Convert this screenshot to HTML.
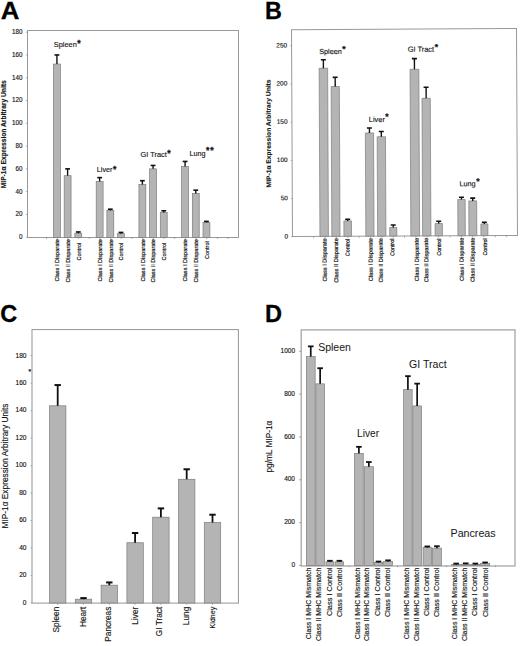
<!DOCTYPE html>
<html><head><meta charset="utf-8"><title>Figure</title>
<style>
html,body{margin:0;padding:0;background:#fff;width:520px;height:646px;overflow:hidden;}
svg{display:block;position:absolute;left:0;top:0;font-family:"Liberation Sans", sans-serif;}
</style></head>
<body>
<svg width="520" height="646" viewBox="0 0 520 646">
<rect x="0" y="0" width="520" height="646" fill="#ffffff"/>
<text x="0.70" y="18.90" font-size="24.6" text-anchor="start" font-weight="bold" fill="#000" stroke="#000" stroke-width="0.3" textLength="18.65" lengthAdjust="spacingAndGlyphs">A</text>
<text x="264.90" y="18.80" font-size="24.6" text-anchor="start" font-weight="bold" fill="#000" stroke="#000" stroke-width="0.3" textLength="16.90" lengthAdjust="spacingAndGlyphs">B</text>
<text x="0.20" y="321.90" font-size="24.6" text-anchor="start" font-weight="bold" fill="#000" stroke="#000" stroke-width="0.3" textLength="17.00" lengthAdjust="spacingAndGlyphs">C</text>
<text x="264.90" y="321.70" font-size="24.6" text-anchor="start" font-weight="bold" fill="#000" stroke="#000" stroke-width="0.3" textLength="17.00" lengthAdjust="spacingAndGlyphs">D</text>
<rect x="27.5" y="30.5" width="211.00" height="207.00" fill="none" stroke="#999999" stroke-width="1"/>
<line x1="25.90" y1="237.20" x2="27.30" y2="237.20" stroke="#8a8a8a" stroke-width="0.7"/>
<text x="22.40" y="239.07" font-size="6.3" text-anchor="end" font-weight="normal" fill="#141414" stroke="#141414" stroke-width="0.14">0</text>
<line x1="25.90" y1="214.42" x2="27.30" y2="214.42" stroke="#8a8a8a" stroke-width="0.7"/>
<text x="22.40" y="216.29" font-size="6.3" text-anchor="end" font-weight="normal" fill="#141414" stroke="#141414" stroke-width="0.14">20</text>
<line x1="25.90" y1="191.64" x2="27.30" y2="191.64" stroke="#8a8a8a" stroke-width="0.7"/>
<text x="22.40" y="193.51" font-size="6.3" text-anchor="end" font-weight="normal" fill="#141414" stroke="#141414" stroke-width="0.14">40</text>
<line x1="25.90" y1="168.86" x2="27.30" y2="168.86" stroke="#8a8a8a" stroke-width="0.7"/>
<text x="22.40" y="170.73" font-size="6.3" text-anchor="end" font-weight="normal" fill="#141414" stroke="#141414" stroke-width="0.14">60</text>
<line x1="25.90" y1="146.08" x2="27.30" y2="146.08" stroke="#8a8a8a" stroke-width="0.7"/>
<text x="22.40" y="147.95" font-size="6.3" text-anchor="end" font-weight="normal" fill="#141414" stroke="#141414" stroke-width="0.14">80</text>
<line x1="25.90" y1="123.30" x2="27.30" y2="123.30" stroke="#8a8a8a" stroke-width="0.7"/>
<text x="22.40" y="125.17" font-size="6.3" text-anchor="end" font-weight="normal" fill="#141414" stroke="#141414" stroke-width="0.14">100</text>
<line x1="25.90" y1="100.52" x2="27.30" y2="100.52" stroke="#8a8a8a" stroke-width="0.7"/>
<text x="22.40" y="102.39" font-size="6.3" text-anchor="end" font-weight="normal" fill="#141414" stroke="#141414" stroke-width="0.14">120</text>
<line x1="25.90" y1="77.74" x2="27.30" y2="77.74" stroke="#8a8a8a" stroke-width="0.7"/>
<text x="22.40" y="79.61" font-size="6.3" text-anchor="end" font-weight="normal" fill="#141414" stroke="#141414" stroke-width="0.14">140</text>
<line x1="25.90" y1="54.96" x2="27.30" y2="54.96" stroke="#8a8a8a" stroke-width="0.7"/>
<text x="22.40" y="56.83" font-size="6.3" text-anchor="end" font-weight="normal" fill="#141414" stroke="#141414" stroke-width="0.14">160</text>
<line x1="25.90" y1="32.18" x2="27.30" y2="32.18" stroke="#8a8a8a" stroke-width="0.7"/>
<text x="22.40" y="34.05" font-size="6.3" text-anchor="end" font-weight="normal" fill="#141414" stroke="#141414" stroke-width="0.14">180</text>
<line x1="46.50" y1="237.40" x2="46.50" y2="239.00" stroke="#8a8a8a" stroke-width="0.7"/>
<line x1="57.18" y1="237.40" x2="57.18" y2="239.00" stroke="#8a8a8a" stroke-width="0.7"/>
<line x1="67.86" y1="237.40" x2="67.86" y2="239.00" stroke="#8a8a8a" stroke-width="0.7"/>
<line x1="78.54" y1="237.40" x2="78.54" y2="239.00" stroke="#8a8a8a" stroke-width="0.7"/>
<line x1="89.22" y1="237.40" x2="89.22" y2="239.00" stroke="#8a8a8a" stroke-width="0.7"/>
<line x1="99.90" y1="237.40" x2="99.90" y2="239.00" stroke="#8a8a8a" stroke-width="0.7"/>
<line x1="110.58" y1="237.40" x2="110.58" y2="239.00" stroke="#8a8a8a" stroke-width="0.7"/>
<line x1="121.26" y1="237.40" x2="121.26" y2="239.00" stroke="#8a8a8a" stroke-width="0.7"/>
<line x1="131.94" y1="237.40" x2="131.94" y2="239.00" stroke="#8a8a8a" stroke-width="0.7"/>
<line x1="142.62" y1="237.40" x2="142.62" y2="239.00" stroke="#8a8a8a" stroke-width="0.7"/>
<line x1="153.30" y1="237.40" x2="153.30" y2="239.00" stroke="#8a8a8a" stroke-width="0.7"/>
<line x1="163.98" y1="237.40" x2="163.98" y2="239.00" stroke="#8a8a8a" stroke-width="0.7"/>
<line x1="174.66" y1="237.40" x2="174.66" y2="239.00" stroke="#8a8a8a" stroke-width="0.7"/>
<line x1="185.34" y1="237.40" x2="185.34" y2="239.00" stroke="#8a8a8a" stroke-width="0.7"/>
<line x1="196.02" y1="237.40" x2="196.02" y2="239.00" stroke="#8a8a8a" stroke-width="0.7"/>
<line x1="206.70" y1="237.40" x2="206.70" y2="239.00" stroke="#8a8a8a" stroke-width="0.7"/>
<line x1="217.38" y1="237.40" x2="217.38" y2="239.00" stroke="#8a8a8a" stroke-width="0.7"/>
<line x1="228.06" y1="237.40" x2="228.06" y2="239.00" stroke="#8a8a8a" stroke-width="0.7"/>
<rect x="53.48" y="64.07" width="6.90" height="173.33" fill="#b4b4b4" stroke="#7c7c7c" stroke-width="0.7"/>
<line x1="56.93" y1="54.96" x2="56.93" y2="64.07" stroke="#111" stroke-width="1.4"/>
<line x1="54.53" y1="54.96" x2="59.33" y2="54.96" stroke="#111" stroke-width="1.6"/>
<text x="59.18" y="239.10" font-size="5.7" text-anchor="end" font-weight="normal" fill="#141414" stroke="#141414" stroke-width="0.2" transform="rotate(-90 59.18 239.10)" textLength="42.40" lengthAdjust="spacingAndGlyphs">Class I Disparate</text>
<rect x="64.16" y="175.69" width="6.90" height="61.71" fill="#b4b4b4" stroke="#7c7c7c" stroke-width="0.7"/>
<line x1="67.61" y1="168.86" x2="67.61" y2="175.69" stroke="#111" stroke-width="1.4"/>
<line x1="65.21" y1="168.86" x2="70.01" y2="168.86" stroke="#111" stroke-width="1.6"/>
<text x="69.86" y="239.10" font-size="5.7" text-anchor="end" font-weight="normal" fill="#141414" stroke="#141414" stroke-width="0.2" transform="rotate(-90 69.86 239.10)" textLength="43.40" lengthAdjust="spacingAndGlyphs">Class II Disparate</text>
<rect x="74.84" y="233.21" width="6.90" height="4.19" fill="#b4b4b4" stroke="#7c7c7c" stroke-width="0.7"/>
<line x1="78.29" y1="231.96" x2="78.29" y2="233.21" stroke="#111" stroke-width="1.4"/>
<line x1="75.89" y1="231.96" x2="80.69" y2="231.96" stroke="#111" stroke-width="1.6"/>
<text x="80.54" y="242.70" font-size="5.7" text-anchor="end" font-weight="normal" fill="#141414" stroke="#141414" stroke-width="0.2" transform="rotate(-90 80.54 242.70)" textLength="17.80" lengthAdjust="spacingAndGlyphs">Control</text>
<rect x="96.20" y="181.39" width="6.90" height="56.01" fill="#b4b4b4" stroke="#7c7c7c" stroke-width="0.7"/>
<line x1="99.65" y1="177.63" x2="99.65" y2="181.39" stroke="#111" stroke-width="1.4"/>
<line x1="97.25" y1="177.63" x2="102.05" y2="177.63" stroke="#111" stroke-width="1.6"/>
<text x="101.90" y="239.10" font-size="5.7" text-anchor="end" font-weight="normal" fill="#141414" stroke="#141414" stroke-width="0.2" transform="rotate(-90 101.90 239.10)" textLength="42.40" lengthAdjust="spacingAndGlyphs">Class I Disparate</text>
<rect x="106.88" y="210.43" width="6.90" height="26.97" fill="#b4b4b4" stroke="#7c7c7c" stroke-width="0.7"/>
<line x1="110.33" y1="209.18" x2="110.33" y2="210.43" stroke="#111" stroke-width="1.4"/>
<line x1="107.93" y1="209.18" x2="112.73" y2="209.18" stroke="#111" stroke-width="1.6"/>
<text x="112.58" y="239.10" font-size="5.7" text-anchor="end" font-weight="normal" fill="#141414" stroke="#141414" stroke-width="0.2" transform="rotate(-90 112.58 239.10)" textLength="43.40" lengthAdjust="spacingAndGlyphs">Class II Disparate</text>
<rect x="117.56" y="233.67" width="6.90" height="3.73" fill="#b4b4b4" stroke="#7c7c7c" stroke-width="0.7"/>
<line x1="121.01" y1="232.42" x2="121.01" y2="233.67" stroke="#111" stroke-width="1.4"/>
<line x1="118.61" y1="232.42" x2="123.41" y2="232.42" stroke="#111" stroke-width="1.6"/>
<text x="123.26" y="242.70" font-size="5.7" text-anchor="end" font-weight="normal" fill="#141414" stroke="#141414" stroke-width="0.2" transform="rotate(-90 123.26 242.70)" textLength="17.80" lengthAdjust="spacingAndGlyphs">Control</text>
<rect x="138.92" y="184.58" width="6.90" height="52.82" fill="#b4b4b4" stroke="#7c7c7c" stroke-width="0.7"/>
<line x1="142.37" y1="180.71" x2="142.37" y2="184.58" stroke="#111" stroke-width="1.4"/>
<line x1="139.97" y1="180.71" x2="144.77" y2="180.71" stroke="#111" stroke-width="1.6"/>
<text x="144.62" y="239.10" font-size="5.7" text-anchor="end" font-weight="normal" fill="#141414" stroke="#141414" stroke-width="0.2" transform="rotate(-90 144.62 239.10)" textLength="42.40" lengthAdjust="spacingAndGlyphs">Class I Disparate</text>
<rect x="149.60" y="168.86" width="6.90" height="68.54" fill="#b4b4b4" stroke="#7c7c7c" stroke-width="0.7"/>
<line x1="153.05" y1="165.44" x2="153.05" y2="168.86" stroke="#111" stroke-width="1.4"/>
<line x1="150.65" y1="165.44" x2="155.45" y2="165.44" stroke="#111" stroke-width="1.6"/>
<text x="155.30" y="239.10" font-size="5.7" text-anchor="end" font-weight="normal" fill="#141414" stroke="#141414" stroke-width="0.2" transform="rotate(-90 155.30 239.10)" textLength="43.40" lengthAdjust="spacingAndGlyphs">Class II Disparate</text>
<rect x="160.28" y="212.60" width="6.90" height="24.80" fill="#b4b4b4" stroke="#7c7c7c" stroke-width="0.7"/>
<line x1="163.73" y1="210.78" x2="163.73" y2="212.60" stroke="#111" stroke-width="1.4"/>
<line x1="161.33" y1="210.78" x2="166.13" y2="210.78" stroke="#111" stroke-width="1.6"/>
<text x="165.98" y="242.70" font-size="5.7" text-anchor="end" font-weight="normal" fill="#141414" stroke="#141414" stroke-width="0.2" transform="rotate(-90 165.98 242.70)" textLength="17.80" lengthAdjust="spacingAndGlyphs">Control</text>
<rect x="181.64" y="166.58" width="6.90" height="70.82" fill="#b4b4b4" stroke="#7c7c7c" stroke-width="0.7"/>
<line x1="185.09" y1="161.46" x2="185.09" y2="166.58" stroke="#111" stroke-width="1.4"/>
<line x1="182.69" y1="161.46" x2="187.49" y2="161.46" stroke="#111" stroke-width="1.6"/>
<text x="187.34" y="239.10" font-size="5.7" text-anchor="end" font-weight="normal" fill="#141414" stroke="#141414" stroke-width="0.2" transform="rotate(-90 187.34 239.10)" textLength="42.40" lengthAdjust="spacingAndGlyphs">Class I Disparate</text>
<rect x="192.32" y="193.46" width="6.90" height="43.94" fill="#b4b4b4" stroke="#7c7c7c" stroke-width="0.7"/>
<line x1="195.77" y1="190.16" x2="195.77" y2="193.46" stroke="#111" stroke-width="1.4"/>
<line x1="193.37" y1="190.16" x2="198.17" y2="190.16" stroke="#111" stroke-width="1.6"/>
<text x="198.02" y="239.10" font-size="5.7" text-anchor="end" font-weight="normal" fill="#141414" stroke="#141414" stroke-width="0.2" transform="rotate(-90 198.02 239.10)" textLength="43.40" lengthAdjust="spacingAndGlyphs">Class II Disparate</text>
<rect x="203.00" y="222.39" width="6.90" height="15.01" fill="#b4b4b4" stroke="#7c7c7c" stroke-width="0.7"/>
<line x1="206.45" y1="221.37" x2="206.45" y2="222.39" stroke="#111" stroke-width="1.4"/>
<line x1="204.05" y1="221.37" x2="208.85" y2="221.37" stroke="#111" stroke-width="1.6"/>
<text x="208.70" y="241.30" font-size="5.7" text-anchor="end" font-weight="normal" fill="#141414" stroke="#141414" stroke-width="0.2" transform="rotate(-90 208.70 241.30)" textLength="17.80" lengthAdjust="spacingAndGlyphs">Control</text>
<text x="53.80" y="46.90" font-size="7.4" text-anchor="start" font-weight="normal" fill="#141414" stroke="#141414" stroke-width="0.14">Spleen</text>
<text x="77.34" y="45.50" font-size="8.6" text-anchor="start" font-weight="bold" fill="#141414" stroke="#141414" stroke-width="0.3">*</text>
<text x="96.80" y="172.00" font-size="7.2" text-anchor="start" font-weight="normal" fill="#141414" stroke="#141414" stroke-width="0.14">Liver</text>
<text x="112.91" y="171.70" font-size="8.6" text-anchor="start" font-weight="bold" fill="#141414" stroke="#141414" stroke-width="0.3">*</text>
<text x="140.60" y="157.20" font-size="7.35" text-anchor="start" font-weight="normal" fill="#141414" stroke="#141414" stroke-width="0.14">GI Tract</text>
<text x="167.24" y="155.60" font-size="8.6" text-anchor="start" font-weight="bold" fill="#141414" stroke="#141414" stroke-width="0.3">*</text>
<text x="189.50" y="155.50" font-size="7.2" text-anchor="start" font-weight="normal" fill="#141414" stroke="#141414" stroke-width="0.14">Lung</text>
<text x="206.02" y="153.20" font-size="8.6" text-anchor="start" font-weight="bold" fill="#141414" stroke="#141414" stroke-width="0.3">*</text>
<text x="210.36" y="153.20" font-size="8.6" text-anchor="start" font-weight="bold" fill="#141414" stroke="#141414" stroke-width="0.3">*</text>
<text x="6.50" y="134.30" font-size="6.5" text-anchor="middle" font-weight="bold" fill="#141414" stroke="#141414" stroke-width="0.14" transform="rotate(-90 6.50 134.30)" textLength="107.90" lengthAdjust="spacingAndGlyphs">MIP-1&#945; Expression Arbitrary Units</text>
<g transform="rotate(-0.27 405 133)">
<rect x="292.0" y="29.1" width="225.00" height="206.90" fill="none" stroke="#999999" stroke-width="1"/>
<line x1="290.60" y1="236.20" x2="292.00" y2="236.20" stroke="#8a8a8a" stroke-width="0.7"/>
<text x="287.60" y="237.84" font-size="6.5" text-anchor="end" font-weight="normal" fill="#141414" stroke="#141414" stroke-width="0.14">0</text>
<line x1="290.60" y1="198.00" x2="292.00" y2="198.00" stroke="#8a8a8a" stroke-width="0.7"/>
<text x="287.60" y="199.64" font-size="6.5" text-anchor="end" font-weight="normal" fill="#141414" stroke="#141414" stroke-width="0.14">50</text>
<line x1="290.60" y1="159.80" x2="292.00" y2="159.80" stroke="#8a8a8a" stroke-width="0.7"/>
<text x="287.60" y="161.44" font-size="6.5" text-anchor="end" font-weight="normal" fill="#141414" stroke="#141414" stroke-width="0.14">100</text>
<line x1="290.60" y1="121.60" x2="292.00" y2="121.60" stroke="#8a8a8a" stroke-width="0.7"/>
<text x="287.60" y="123.24" font-size="6.5" text-anchor="end" font-weight="normal" fill="#141414" stroke="#141414" stroke-width="0.14">150</text>
<line x1="290.60" y1="83.40" x2="292.00" y2="83.40" stroke="#8a8a8a" stroke-width="0.7"/>
<text x="287.60" y="85.04" font-size="6.5" text-anchor="end" font-weight="normal" fill="#141414" stroke="#141414" stroke-width="0.14">200</text>
<line x1="290.60" y1="45.20" x2="292.00" y2="45.20" stroke="#8a8a8a" stroke-width="0.7"/>
<text x="287.60" y="46.84" font-size="6.5" text-anchor="end" font-weight="normal" fill="#141414" stroke="#141414" stroke-width="0.14">250</text>
<line x1="313.20" y1="236.00" x2="313.20" y2="237.60" stroke="#8a8a8a" stroke-width="0.7"/>
<line x1="324.55" y1="236.00" x2="324.55" y2="237.60" stroke="#8a8a8a" stroke-width="0.7"/>
<line x1="335.90" y1="236.00" x2="335.90" y2="237.60" stroke="#8a8a8a" stroke-width="0.7"/>
<line x1="347.25" y1="236.00" x2="347.25" y2="237.60" stroke="#8a8a8a" stroke-width="0.7"/>
<line x1="358.60" y1="236.00" x2="358.60" y2="237.60" stroke="#8a8a8a" stroke-width="0.7"/>
<line x1="369.95" y1="236.00" x2="369.95" y2="237.60" stroke="#8a8a8a" stroke-width="0.7"/>
<line x1="381.30" y1="236.00" x2="381.30" y2="237.60" stroke="#8a8a8a" stroke-width="0.7"/>
<line x1="392.65" y1="236.00" x2="392.65" y2="237.60" stroke="#8a8a8a" stroke-width="0.7"/>
<line x1="404.00" y1="236.00" x2="404.00" y2="237.60" stroke="#8a8a8a" stroke-width="0.7"/>
<line x1="415.35" y1="236.00" x2="415.35" y2="237.60" stroke="#8a8a8a" stroke-width="0.7"/>
<line x1="426.70" y1="236.00" x2="426.70" y2="237.60" stroke="#8a8a8a" stroke-width="0.7"/>
<line x1="438.05" y1="236.00" x2="438.05" y2="237.60" stroke="#8a8a8a" stroke-width="0.7"/>
<line x1="449.40" y1="236.00" x2="449.40" y2="237.60" stroke="#8a8a8a" stroke-width="0.7"/>
<line x1="460.75" y1="236.00" x2="460.75" y2="237.60" stroke="#8a8a8a" stroke-width="0.7"/>
<line x1="472.10" y1="236.00" x2="472.10" y2="237.60" stroke="#8a8a8a" stroke-width="0.7"/>
<line x1="483.45" y1="236.00" x2="483.45" y2="237.60" stroke="#8a8a8a" stroke-width="0.7"/>
<line x1="494.80" y1="236.00" x2="494.80" y2="237.60" stroke="#8a8a8a" stroke-width="0.7"/>
<line x1="506.15" y1="236.00" x2="506.15" y2="237.60" stroke="#8a8a8a" stroke-width="0.7"/>
<rect x="319.45" y="67.82" width="8.50" height="168.18" fill="#b4b4b4" stroke="#7c7c7c" stroke-width="0.7"/>
<line x1="323.70" y1="59.42" x2="323.70" y2="67.82" stroke="#111" stroke-width="1.4"/>
<line x1="321.20" y1="59.42" x2="326.20" y2="59.42" stroke="#111" stroke-width="1.6"/>
<text x="326.00" y="237.90" font-size="5.7" text-anchor="end" font-weight="normal" fill="#141414" stroke="#141414" stroke-width="0.2" transform="rotate(-90 326.00 237.90)" textLength="43.30" lengthAdjust="spacingAndGlyphs">Class I Disparate</text>
<rect x="331.35" y="86.16" width="8.20" height="149.84" fill="#b4b4b4" stroke="#7c7c7c" stroke-width="0.7"/>
<line x1="335.45" y1="76.99" x2="335.45" y2="86.16" stroke="#111" stroke-width="1.4"/>
<line x1="332.95" y1="76.99" x2="337.95" y2="76.99" stroke="#111" stroke-width="1.6"/>
<text x="337.50" y="237.90" font-size="5.7" text-anchor="end" font-weight="normal" fill="#141414" stroke="#141414" stroke-width="0.2" transform="rotate(-90 337.50 237.90)" textLength="44.50" lengthAdjust="spacingAndGlyphs">Class II Disparate</text>
<rect x="343.45" y="220.62" width="7.60" height="15.38" fill="#b4b4b4" stroke="#7c7c7c" stroke-width="0.7"/>
<line x1="347.25" y1="218.94" x2="347.25" y2="220.62" stroke="#111" stroke-width="1.4"/>
<line x1="344.75" y1="218.94" x2="349.75" y2="218.94" stroke="#111" stroke-width="1.6"/>
<text x="349.00" y="238.60" font-size="5.7" text-anchor="end" font-weight="normal" fill="#141414" stroke="#141414" stroke-width="0.2" transform="rotate(-90 349.00 238.60)" textLength="17.30" lengthAdjust="spacingAndGlyphs">Control</text>
<rect x="365.35" y="132.76" width="8.20" height="103.24" fill="#b4b4b4" stroke="#7c7c7c" stroke-width="0.7"/>
<line x1="369.45" y1="127.79" x2="369.45" y2="132.76" stroke="#111" stroke-width="1.4"/>
<line x1="366.95" y1="127.79" x2="371.95" y2="127.79" stroke="#111" stroke-width="1.6"/>
<text x="372.00" y="237.90" font-size="5.7" text-anchor="end" font-weight="normal" fill="#141414" stroke="#141414" stroke-width="0.2" transform="rotate(-90 372.00 237.90)" textLength="43.30" lengthAdjust="spacingAndGlyphs">Class I Disparate</text>
<rect x="377.15" y="136.58" width="8.30" height="99.42" fill="#b4b4b4" stroke="#7c7c7c" stroke-width="0.7"/>
<line x1="381.30" y1="131.38" x2="381.30" y2="136.58" stroke="#111" stroke-width="1.4"/>
<line x1="378.80" y1="131.38" x2="383.80" y2="131.38" stroke="#111" stroke-width="1.6"/>
<text x="382.10" y="237.90" font-size="5.7" text-anchor="end" font-weight="normal" fill="#141414" stroke="#141414" stroke-width="0.2" transform="rotate(-90 382.10 237.90)" textLength="44.50" lengthAdjust="spacingAndGlyphs">Class II Disparate</text>
<rect x="389.25" y="227.50" width="7.10" height="8.50" fill="#b4b4b4" stroke="#7c7c7c" stroke-width="0.7"/>
<line x1="392.80" y1="224.97" x2="392.80" y2="227.50" stroke="#111" stroke-width="1.4"/>
<line x1="390.30" y1="224.97" x2="395.30" y2="224.97" stroke="#111" stroke-width="1.6"/>
<text x="393.60" y="238.60" font-size="5.7" text-anchor="end" font-weight="normal" fill="#141414" stroke="#141414" stroke-width="0.2" transform="rotate(-90 393.60 238.60)" textLength="17.30" lengthAdjust="spacingAndGlyphs">Control</text>
<rect x="410.35" y="69.35" width="8.80" height="166.65" fill="#b4b4b4" stroke="#7c7c7c" stroke-width="0.7"/>
<line x1="414.75" y1="58.65" x2="414.75" y2="69.35" stroke="#111" stroke-width="1.4"/>
<line x1="412.25" y1="58.65" x2="417.25" y2="58.65" stroke="#111" stroke-width="1.6"/>
<text x="418.10" y="237.90" font-size="5.7" text-anchor="end" font-weight="normal" fill="#141414" stroke="#141414" stroke-width="0.2" transform="rotate(-90 418.10 237.90)" textLength="43.30" lengthAdjust="spacingAndGlyphs">Class I Disparate</text>
<rect x="422.15" y="98.38" width="8.30" height="137.62" fill="#b4b4b4" stroke="#7c7c7c" stroke-width="0.7"/>
<line x1="426.30" y1="87.30" x2="426.30" y2="98.38" stroke="#111" stroke-width="1.4"/>
<line x1="423.80" y1="87.30" x2="428.80" y2="87.30" stroke="#111" stroke-width="1.6"/>
<text x="427.60" y="237.90" font-size="5.7" text-anchor="end" font-weight="normal" fill="#141414" stroke="#141414" stroke-width="0.2" transform="rotate(-90 427.60 237.90)" textLength="44.50" lengthAdjust="spacingAndGlyphs">Class II Disparate</text>
<rect x="434.65" y="223.68" width="7.30" height="12.32" fill="#b4b4b4" stroke="#7c7c7c" stroke-width="0.7"/>
<line x1="438.30" y1="221.38" x2="438.30" y2="223.68" stroke="#111" stroke-width="1.4"/>
<line x1="435.80" y1="221.38" x2="440.80" y2="221.38" stroke="#111" stroke-width="1.6"/>
<text x="440.50" y="238.60" font-size="5.7" text-anchor="end" font-weight="normal" fill="#141414" stroke="#141414" stroke-width="0.2" transform="rotate(-90 440.50 238.60)" textLength="17.30" lengthAdjust="spacingAndGlyphs">Control</text>
<rect x="457.45" y="199.69" width="7.40" height="36.31" fill="#b4b4b4" stroke="#7c7c7c" stroke-width="0.7"/>
<line x1="461.15" y1="197.55" x2="461.15" y2="199.69" stroke="#111" stroke-width="1.4"/>
<line x1="458.65" y1="197.55" x2="463.65" y2="197.55" stroke="#111" stroke-width="1.6"/>
<text x="463.00" y="237.90" font-size="5.7" text-anchor="end" font-weight="normal" fill="#141414" stroke="#141414" stroke-width="0.2" transform="rotate(-90 463.00 237.90)" textLength="43.30" lengthAdjust="spacingAndGlyphs">Class I Disparate</text>
<rect x="468.45" y="201.21" width="7.90" height="34.79" fill="#b4b4b4" stroke="#7c7c7c" stroke-width="0.7"/>
<line x1="472.40" y1="198.46" x2="472.40" y2="201.21" stroke="#111" stroke-width="1.4"/>
<line x1="469.90" y1="198.46" x2="474.90" y2="198.46" stroke="#111" stroke-width="1.6"/>
<text x="473.90" y="237.90" font-size="5.7" text-anchor="end" font-weight="normal" fill="#141414" stroke="#141414" stroke-width="0.2" transform="rotate(-90 473.90 237.90)" textLength="44.50" lengthAdjust="spacingAndGlyphs">Class II Disparate</text>
<rect x="480.45" y="224.29" width="7.00" height="11.71" fill="#b4b4b4" stroke="#7c7c7c" stroke-width="0.7"/>
<line x1="483.95" y1="222.68" x2="483.95" y2="224.29" stroke="#111" stroke-width="1.4"/>
<line x1="481.45" y1="222.68" x2="486.45" y2="222.68" stroke="#111" stroke-width="1.6"/>
<text x="486.50" y="238.60" font-size="5.7" text-anchor="end" font-weight="normal" fill="#141414" stroke="#141414" stroke-width="0.2" transform="rotate(-90 486.50 238.60)" textLength="17.30" lengthAdjust="spacingAndGlyphs">Control</text>
<text x="319.50" y="53.70" font-size="7.3" text-anchor="start" font-weight="normal" fill="#141414" stroke="#141414" stroke-width="0.14">Spleen</text>
<text x="342.73" y="51.80" font-size="8.6" text-anchor="start" font-weight="bold" fill="#141414" stroke="#141414" stroke-width="0.3">*</text>
<text x="368.90" y="121.80" font-size="7.4" text-anchor="start" font-weight="normal" fill="#141414" stroke="#141414" stroke-width="0.14">Liver</text>
<text x="385.44" y="119.40" font-size="8.6" text-anchor="start" font-weight="bold" fill="#141414" stroke="#141414" stroke-width="0.3">*</text>
<text x="408.10" y="51.80" font-size="7.45" text-anchor="start" font-weight="normal" fill="#141414" stroke="#141414" stroke-width="0.14">GI Tract</text>
<text x="435.09" y="50.10" font-size="8.6" text-anchor="start" font-weight="bold" fill="#141414" stroke="#141414" stroke-width="0.3">*</text>
<text x="459.20" y="186.60" font-size="7.3" text-anchor="start" font-weight="normal" fill="#141414" stroke="#141414" stroke-width="0.14">Lung</text>
<text x="475.94" y="184.60" font-size="8.6" text-anchor="start" font-weight="bold" fill="#141414" stroke="#141414" stroke-width="0.3">*</text>
<text x="270.70" y="132.80" font-size="6.5" text-anchor="middle" font-weight="bold" fill="#141414" stroke="#141414" stroke-width="0.14" transform="rotate(-90 270.70 132.80)" textLength="107.90" lengthAdjust="spacingAndGlyphs">MIP-1&#945; Expression Arbitrary Units</text>
</g>
<rect x="32.0" y="329.6" width="206.40" height="273.50" fill="none" stroke="#949494" stroke-width="1.0"/>
<line x1="30.60" y1="602.90" x2="32.00" y2="602.90" stroke="#8a8a8a" stroke-width="0.7"/>
<text x="26.50" y="604.78" font-size="6.6" text-anchor="end" font-weight="normal" fill="#141414" stroke="#141414" stroke-width="0.14">0</text>
<line x1="30.60" y1="575.43" x2="32.00" y2="575.43" stroke="#8a8a8a" stroke-width="0.7"/>
<text x="26.50" y="577.31" font-size="6.6" text-anchor="end" font-weight="normal" fill="#141414" stroke="#141414" stroke-width="0.14">20</text>
<line x1="30.60" y1="547.96" x2="32.00" y2="547.96" stroke="#8a8a8a" stroke-width="0.7"/>
<text x="26.50" y="549.84" font-size="6.6" text-anchor="end" font-weight="normal" fill="#141414" stroke="#141414" stroke-width="0.14">40</text>
<line x1="30.60" y1="520.49" x2="32.00" y2="520.49" stroke="#8a8a8a" stroke-width="0.7"/>
<text x="26.50" y="522.37" font-size="6.6" text-anchor="end" font-weight="normal" fill="#141414" stroke="#141414" stroke-width="0.14">60</text>
<line x1="30.60" y1="493.02" x2="32.00" y2="493.02" stroke="#8a8a8a" stroke-width="0.7"/>
<text x="26.50" y="494.90" font-size="6.6" text-anchor="end" font-weight="normal" fill="#141414" stroke="#141414" stroke-width="0.14">80</text>
<line x1="30.60" y1="465.55" x2="32.00" y2="465.55" stroke="#8a8a8a" stroke-width="0.7"/>
<text x="26.50" y="467.43" font-size="6.6" text-anchor="end" font-weight="normal" fill="#141414" stroke="#141414" stroke-width="0.14">100</text>
<line x1="30.60" y1="438.08" x2="32.00" y2="438.08" stroke="#8a8a8a" stroke-width="0.7"/>
<text x="26.50" y="439.96" font-size="6.6" text-anchor="end" font-weight="normal" fill="#141414" stroke="#141414" stroke-width="0.14">120</text>
<line x1="30.60" y1="410.61" x2="32.00" y2="410.61" stroke="#8a8a8a" stroke-width="0.7"/>
<text x="26.50" y="412.49" font-size="6.6" text-anchor="end" font-weight="normal" fill="#141414" stroke="#141414" stroke-width="0.14">140</text>
<line x1="30.60" y1="383.14" x2="32.00" y2="383.14" stroke="#8a8a8a" stroke-width="0.7"/>
<text x="26.50" y="385.02" font-size="6.6" text-anchor="end" font-weight="normal" fill="#141414" stroke="#141414" stroke-width="0.14">160</text>
<line x1="30.60" y1="355.67" x2="32.00" y2="355.67" stroke="#8a8a8a" stroke-width="0.7"/>
<text x="26.50" y="357.55" font-size="6.6" text-anchor="end" font-weight="normal" fill="#141414" stroke="#141414" stroke-width="0.14">180</text>
<rect x="49.50" y="405.80" width="16.40" height="197.20" fill="#b4b4b4" stroke="#7c7c7c" stroke-width="0.7"/>
<line x1="57.70" y1="385.06" x2="57.70" y2="405.80" stroke="#111" stroke-width="1.8"/>
<line x1="54.50" y1="385.06" x2="60.90" y2="385.06" stroke="#111" stroke-width="2.0"/>
<text x="59.10" y="606.70" font-size="8.3" text-anchor="end" font-weight="normal" fill="#141414" stroke="#141414" stroke-width="0.14" transform="rotate(-90 59.10 606.70)">Spleen</text>
<line x1="57.70" y1="603.00" x2="57.70" y2="604.80" stroke="#8a8a8a" stroke-width="0.7"/>
<rect x="75.30" y="599.19" width="16.40" height="3.81" fill="#b4b4b4" stroke="#7c7c7c" stroke-width="0.7"/>
<line x1="83.50" y1="598.09" x2="83.50" y2="599.19" stroke="#111" stroke-width="1.8"/>
<line x1="80.30" y1="598.09" x2="86.70" y2="598.09" stroke="#111" stroke-width="2.0"/>
<text x="86.40" y="606.70" font-size="8.3" text-anchor="end" font-weight="normal" fill="#141414" stroke="#141414" stroke-width="0.14" transform="rotate(-90 86.40 606.70)">Heart</text>
<line x1="83.50" y1="603.00" x2="83.50" y2="604.80" stroke="#8a8a8a" stroke-width="0.7"/>
<rect x="101.10" y="585.18" width="16.40" height="17.82" fill="#b4b4b4" stroke="#7c7c7c" stroke-width="0.7"/>
<line x1="109.30" y1="582.43" x2="109.30" y2="585.18" stroke="#111" stroke-width="1.8"/>
<line x1="106.10" y1="582.43" x2="112.50" y2="582.43" stroke="#111" stroke-width="2.0"/>
<text x="111.30" y="606.70" font-size="8.3" text-anchor="end" font-weight="normal" fill="#141414" stroke="#141414" stroke-width="0.14" transform="rotate(-90 111.30 606.70)">Pancreas</text>
<line x1="109.30" y1="603.00" x2="109.30" y2="604.80" stroke="#8a8a8a" stroke-width="0.7"/>
<rect x="126.90" y="542.74" width="16.40" height="60.26" fill="#b4b4b4" stroke="#7c7c7c" stroke-width="0.7"/>
<line x1="135.10" y1="532.99" x2="135.10" y2="542.74" stroke="#111" stroke-width="1.8"/>
<line x1="131.90" y1="532.99" x2="138.30" y2="532.99" stroke="#111" stroke-width="2.0"/>
<text x="137.60" y="606.70" font-size="8.3" text-anchor="end" font-weight="normal" fill="#141414" stroke="#141414" stroke-width="0.14" transform="rotate(-90 137.60 606.70)">Liver</text>
<line x1="135.10" y1="603.00" x2="135.10" y2="604.80" stroke="#8a8a8a" stroke-width="0.7"/>
<rect x="152.70" y="517.19" width="16.40" height="85.81" fill="#b4b4b4" stroke="#7c7c7c" stroke-width="0.7"/>
<line x1="160.90" y1="508.40" x2="160.90" y2="517.19" stroke="#111" stroke-width="1.8"/>
<line x1="157.70" y1="508.40" x2="164.10" y2="508.40" stroke="#111" stroke-width="2.0"/>
<text x="162.50" y="606.70" font-size="8.3" text-anchor="end" font-weight="normal" fill="#141414" stroke="#141414" stroke-width="0.14" transform="rotate(-90 162.50 606.70)">GI Tract</text>
<line x1="160.90" y1="603.00" x2="160.90" y2="604.80" stroke="#8a8a8a" stroke-width="0.7"/>
<rect x="178.50" y="479.28" width="16.40" height="123.72" fill="#b4b4b4" stroke="#7c7c7c" stroke-width="0.7"/>
<line x1="186.70" y1="469.26" x2="186.70" y2="479.28" stroke="#111" stroke-width="1.8"/>
<line x1="183.50" y1="469.26" x2="189.90" y2="469.26" stroke="#111" stroke-width="2.0"/>
<text x="189.00" y="606.70" font-size="8.3" text-anchor="end" font-weight="normal" fill="#141414" stroke="#141414" stroke-width="0.14" transform="rotate(-90 189.00 606.70)">Lung</text>
<line x1="186.70" y1="603.00" x2="186.70" y2="604.80" stroke="#8a8a8a" stroke-width="0.7"/>
<rect x="204.30" y="522.55" width="16.40" height="80.45" fill="#b4b4b4" stroke="#7c7c7c" stroke-width="0.7"/>
<line x1="212.50" y1="514.72" x2="212.50" y2="522.55" stroke="#111" stroke-width="1.8"/>
<line x1="209.30" y1="514.72" x2="215.70" y2="514.72" stroke="#111" stroke-width="2.0"/>
<text x="214.90" y="606.70" font-size="6.6" text-anchor="end" font-weight="normal" fill="#141414" stroke="#141414" stroke-width="0.14" transform="rotate(-90 214.90 606.70)" textLength="21.70" lengthAdjust="spacingAndGlyphs">Kidney</text>
<line x1="212.50" y1="603.00" x2="212.50" y2="604.80" stroke="#8a8a8a" stroke-width="0.7"/>
<text x="8.40" y="466.00" font-size="8.3" text-anchor="middle" font-weight="normal" fill="#141414" stroke="#141414" stroke-width="0.14" transform="rotate(-90 8.40 466.00)" textLength="125.00" lengthAdjust="spacingAndGlyphs">MIP-1&#945; Expression Arbitrary Units</text>
<text x="28.50" y="373.90" font-size="6.5" text-anchor="start" font-weight="bold" fill="#141414" stroke="#141414" stroke-width="0.14">*</text>
<rect x="301.2" y="329.9" width="213.80" height="236.10" fill="none" stroke="#a6a6a6" stroke-width="1.3"/>
<line x1="299.00" y1="565.50" x2="301.20" y2="565.50" stroke="#8a8a8a" stroke-width="0.7"/>
<text x="295.00" y="567.04" font-size="6.5" text-anchor="end" font-weight="normal" fill="#141414" stroke="#141414" stroke-width="0.14">0</text>
<line x1="299.00" y1="522.66" x2="301.20" y2="522.66" stroke="#8a8a8a" stroke-width="0.7"/>
<text x="295.00" y="524.20" font-size="6.5" text-anchor="end" font-weight="normal" fill="#141414" stroke="#141414" stroke-width="0.14">200</text>
<line x1="299.00" y1="479.82" x2="301.20" y2="479.82" stroke="#8a8a8a" stroke-width="0.7"/>
<text x="295.00" y="481.36" font-size="6.5" text-anchor="end" font-weight="normal" fill="#141414" stroke="#141414" stroke-width="0.14">400</text>
<line x1="299.00" y1="436.98" x2="301.20" y2="436.98" stroke="#8a8a8a" stroke-width="0.7"/>
<text x="295.00" y="438.52" font-size="6.5" text-anchor="end" font-weight="normal" fill="#141414" stroke="#141414" stroke-width="0.14">600</text>
<line x1="299.00" y1="394.14" x2="301.20" y2="394.14" stroke="#8a8a8a" stroke-width="0.7"/>
<text x="295.00" y="395.68" font-size="6.5" text-anchor="end" font-weight="normal" fill="#141414" stroke="#141414" stroke-width="0.14">800</text>
<line x1="299.00" y1="351.30" x2="301.20" y2="351.30" stroke="#8a8a8a" stroke-width="0.7"/>
<text x="295.00" y="352.84" font-size="6.5" text-anchor="end" font-weight="normal" fill="#141414" stroke="#141414" stroke-width="0.14">1000</text>
<rect x="306.35" y="356.65" width="8.80" height="208.85" fill="#b4b4b4" stroke="#7c7c7c" stroke-width="0.7"/>
<line x1="310.75" y1="346.37" x2="310.75" y2="356.65" stroke="#111" stroke-width="1.7"/>
<line x1="307.95" y1="346.37" x2="313.55" y2="346.37" stroke="#111" stroke-width="1.8"/>
<text x="311.30" y="567.60" font-size="7.2" text-anchor="end" font-weight="normal" fill="#141414" stroke="#141414" stroke-width="0.15" transform="rotate(-90 311.30 567.60)" textLength="71.60" lengthAdjust="spacingAndGlyphs">Class I MHC Mismatch</text>
<rect x="315.85" y="383.86" width="8.60" height="181.64" fill="#b4b4b4" stroke="#7c7c7c" stroke-width="0.7"/>
<line x1="320.15" y1="368.22" x2="320.15" y2="383.86" stroke="#111" stroke-width="1.7"/>
<line x1="317.35" y1="368.22" x2="322.95" y2="368.22" stroke="#111" stroke-width="1.8"/>
<text x="321.50" y="567.60" font-size="7.2" text-anchor="end" font-weight="normal" fill="#141414" stroke="#141414" stroke-width="0.15" transform="rotate(-90 321.50 567.60)" textLength="73.50" lengthAdjust="spacingAndGlyphs">Class II MHC Mismatch</text>
<rect x="325.95" y="561.86" width="7.90" height="3.64" fill="#b4b4b4" stroke="#7c7c7c" stroke-width="0.7"/>
<line x1="329.90" y1="560.79" x2="329.90" y2="561.86" stroke="#111" stroke-width="1.7"/>
<line x1="327.10" y1="560.79" x2="332.70" y2="560.79" stroke="#111" stroke-width="1.8"/>
<text x="331.90" y="567.60" font-size="7.2" text-anchor="end" font-weight="normal" fill="#141414" stroke="#141414" stroke-width="0.15" transform="rotate(-90 331.90 567.60)" textLength="48.50" lengthAdjust="spacingAndGlyphs">Class I Control</text>
<rect x="335.15" y="561.86" width="8.50" height="3.64" fill="#b4b4b4" stroke="#7c7c7c" stroke-width="0.7"/>
<line x1="339.40" y1="560.79" x2="339.40" y2="561.86" stroke="#111" stroke-width="1.7"/>
<line x1="336.60" y1="560.79" x2="342.20" y2="560.79" stroke="#111" stroke-width="1.8"/>
<text x="342.20" y="567.60" font-size="7.2" text-anchor="end" font-weight="normal" fill="#141414" stroke="#141414" stroke-width="0.15" transform="rotate(-90 342.20 567.60)" textLength="49.50" lengthAdjust="spacingAndGlyphs">Class II Control</text>
<rect x="354.55" y="453.47" width="8.70" height="112.03" fill="#b4b4b4" stroke="#7c7c7c" stroke-width="0.7"/>
<line x1="358.90" y1="446.83" x2="358.90" y2="453.47" stroke="#111" stroke-width="1.7"/>
<line x1="356.10" y1="446.83" x2="361.70" y2="446.83" stroke="#111" stroke-width="1.8"/>
<text x="359.90" y="567.60" font-size="7.2" text-anchor="end" font-weight="normal" fill="#141414" stroke="#141414" stroke-width="0.15" transform="rotate(-90 359.90 567.60)" textLength="71.60" lengthAdjust="spacingAndGlyphs">Class I MHC Mismatch</text>
<rect x="364.25" y="466.75" width="9.20" height="98.75" fill="#b4b4b4" stroke="#7c7c7c" stroke-width="0.7"/>
<line x1="368.85" y1="462.04" x2="368.85" y2="466.75" stroke="#111" stroke-width="1.7"/>
<line x1="366.05" y1="462.04" x2="371.65" y2="462.04" stroke="#111" stroke-width="1.8"/>
<text x="368.80" y="567.60" font-size="7.2" text-anchor="end" font-weight="normal" fill="#141414" stroke="#141414" stroke-width="0.15" transform="rotate(-90 368.80 567.60)" textLength="73.50" lengthAdjust="spacingAndGlyphs">Class II MHC Mismatch</text>
<rect x="374.35" y="562.50" width="8.30" height="3.00" fill="#b4b4b4" stroke="#7c7c7c" stroke-width="0.7"/>
<line x1="378.50" y1="561.54" x2="378.50" y2="562.50" stroke="#111" stroke-width="1.7"/>
<line x1="375.70" y1="561.54" x2="381.30" y2="561.54" stroke="#111" stroke-width="1.8"/>
<text x="380.20" y="567.60" font-size="7.2" text-anchor="end" font-weight="normal" fill="#141414" stroke="#141414" stroke-width="0.15" transform="rotate(-90 380.20 567.60)" textLength="48.50" lengthAdjust="spacingAndGlyphs">Class I Control</text>
<rect x="383.65" y="561.43" width="8.90" height="4.07" fill="#b4b4b4" stroke="#7c7c7c" stroke-width="0.7"/>
<line x1="388.10" y1="560.36" x2="388.10" y2="561.43" stroke="#111" stroke-width="1.7"/>
<line x1="385.30" y1="560.36" x2="390.90" y2="560.36" stroke="#111" stroke-width="1.8"/>
<text x="389.90" y="567.60" font-size="7.2" text-anchor="end" font-weight="normal" fill="#141414" stroke="#141414" stroke-width="0.15" transform="rotate(-90 389.90 567.60)" textLength="49.50" lengthAdjust="spacingAndGlyphs">Class II Control</text>
<rect x="403.65" y="389.64" width="8.50" height="175.86" fill="#b4b4b4" stroke="#7c7c7c" stroke-width="0.7"/>
<line x1="407.90" y1="376.15" x2="407.90" y2="389.64" stroke="#111" stroke-width="1.7"/>
<line x1="405.10" y1="376.15" x2="410.70" y2="376.15" stroke="#111" stroke-width="1.8"/>
<text x="409.20" y="567.60" font-size="7.2" text-anchor="end" font-weight="normal" fill="#141414" stroke="#141414" stroke-width="0.15" transform="rotate(-90 409.20 567.60)" textLength="71.60" lengthAdjust="spacingAndGlyphs">Class I MHC Mismatch</text>
<rect x="412.85" y="405.92" width="8.60" height="159.58" fill="#b4b4b4" stroke="#7c7c7c" stroke-width="0.7"/>
<line x1="417.15" y1="383.64" x2="417.15" y2="405.92" stroke="#111" stroke-width="1.7"/>
<line x1="414.35" y1="383.64" x2="419.95" y2="383.64" stroke="#111" stroke-width="1.8"/>
<text x="418.90" y="567.60" font-size="7.2" text-anchor="end" font-weight="normal" fill="#141414" stroke="#141414" stroke-width="0.15" transform="rotate(-90 418.90 567.60)" textLength="73.50" lengthAdjust="spacingAndGlyphs">Class II MHC Mismatch</text>
<rect x="423.05" y="547.51" width="8.50" height="17.99" fill="#b4b4b4" stroke="#7c7c7c" stroke-width="0.7"/>
<line x1="427.30" y1="546.44" x2="427.30" y2="547.51" stroke="#111" stroke-width="1.7"/>
<line x1="424.50" y1="546.44" x2="430.10" y2="546.44" stroke="#111" stroke-width="1.8"/>
<text x="429.10" y="567.60" font-size="7.2" text-anchor="end" font-weight="normal" fill="#141414" stroke="#141414" stroke-width="0.15" transform="rotate(-90 429.10 567.60)" textLength="48.50" lengthAdjust="spacingAndGlyphs">Class I Control</text>
<rect x="432.45" y="548.15" width="8.90" height="17.35" fill="#b4b4b4" stroke="#7c7c7c" stroke-width="0.7"/>
<line x1="436.90" y1="546.22" x2="436.90" y2="548.15" stroke="#111" stroke-width="1.7"/>
<line x1="434.10" y1="546.22" x2="439.70" y2="546.22" stroke="#111" stroke-width="1.8"/>
<text x="439.20" y="567.60" font-size="7.2" text-anchor="end" font-weight="normal" fill="#141414" stroke="#141414" stroke-width="0.15" transform="rotate(-90 439.20 567.60)" textLength="49.50" lengthAdjust="spacingAndGlyphs">Class II Control</text>
<rect x="451.75" y="564.43" width="8.80" height="1.07" fill="#b4b4b4" stroke="#7c7c7c" stroke-width="0.7"/>
<line x1="456.15" y1="563.57" x2="456.15" y2="564.43" stroke="#111" stroke-width="1.7"/>
<line x1="453.35" y1="563.57" x2="458.95" y2="563.57" stroke="#111" stroke-width="1.8"/>
<text x="457.50" y="567.60" font-size="7.2" text-anchor="end" font-weight="normal" fill="#141414" stroke="#141414" stroke-width="0.15" transform="rotate(-90 457.50 567.60)" textLength="71.60" lengthAdjust="spacingAndGlyphs">Class I MHC Mismatch</text>
<rect x="461.25" y="564.21" width="8.90" height="1.29" fill="#b4b4b4" stroke="#7c7c7c" stroke-width="0.7"/>
<line x1="465.70" y1="563.36" x2="465.70" y2="564.21" stroke="#111" stroke-width="1.7"/>
<line x1="462.90" y1="563.36" x2="468.50" y2="563.36" stroke="#111" stroke-width="1.8"/>
<text x="467.20" y="567.60" font-size="7.2" text-anchor="end" font-weight="normal" fill="#141414" stroke="#141414" stroke-width="0.15" transform="rotate(-90 467.20 567.60)" textLength="73.50" lengthAdjust="spacingAndGlyphs">Class II MHC Mismatch</text>
<rect x="470.85" y="564.43" width="9.00" height="1.07" fill="#b4b4b4" stroke="#7c7c7c" stroke-width="0.7"/>
<line x1="475.35" y1="563.57" x2="475.35" y2="564.43" stroke="#111" stroke-width="1.7"/>
<line x1="472.55" y1="563.57" x2="478.15" y2="563.57" stroke="#111" stroke-width="1.8"/>
<text x="477.40" y="567.60" font-size="7.2" text-anchor="end" font-weight="normal" fill="#141414" stroke="#141414" stroke-width="0.15" transform="rotate(-90 477.40 567.60)" textLength="48.50" lengthAdjust="spacingAndGlyphs">Class I Control</text>
<rect x="480.55" y="563.57" width="9.10" height="1.93" fill="#b4b4b4" stroke="#7c7c7c" stroke-width="0.7"/>
<line x1="485.10" y1="562.50" x2="485.10" y2="563.57" stroke="#111" stroke-width="1.7"/>
<line x1="482.30" y1="562.50" x2="487.90" y2="562.50" stroke="#111" stroke-width="1.8"/>
<text x="487.90" y="567.60" font-size="7.2" text-anchor="end" font-weight="normal" fill="#141414" stroke="#141414" stroke-width="0.15" transform="rotate(-90 487.90 567.60)" textLength="49.50" lengthAdjust="spacingAndGlyphs">Class II Control</text>
<line x1="349.20" y1="565.50" x2="349.20" y2="567.10" stroke="#8a8a8a" stroke-width="0.7"/>
<line x1="397.50" y1="565.50" x2="397.50" y2="567.10" stroke="#8a8a8a" stroke-width="0.7"/>
<line x1="446.30" y1="565.50" x2="446.30" y2="567.10" stroke="#8a8a8a" stroke-width="0.7"/>
<line x1="495.40" y1="565.50" x2="495.40" y2="567.10" stroke="#8a8a8a" stroke-width="0.7"/>
<text x="318.20" y="350.70" font-size="10.5" text-anchor="start" font-weight="normal" fill="#141414">Spleen</text>
<text x="357.00" y="437.20" font-size="10.2" text-anchor="start" font-weight="normal" fill="#141414">Liver</text>
<text x="409.00" y="367.50" font-size="10.6" text-anchor="start" font-weight="normal" fill="#141414">GI Tract</text>
<text x="450.50" y="536.60" font-size="10.7" text-anchor="start" font-weight="normal" fill="#141414">Pancreas</text>
<text x="272.30" y="446.60" font-size="8.7" text-anchor="middle" font-weight="normal" fill="#141414" stroke="#141414" stroke-width="0.14" transform="rotate(-90 272.30 446.60)" textLength="52.00" lengthAdjust="spacingAndGlyphs">pg/mL MIP-1&#945;</text>
</svg>
</body></html>
